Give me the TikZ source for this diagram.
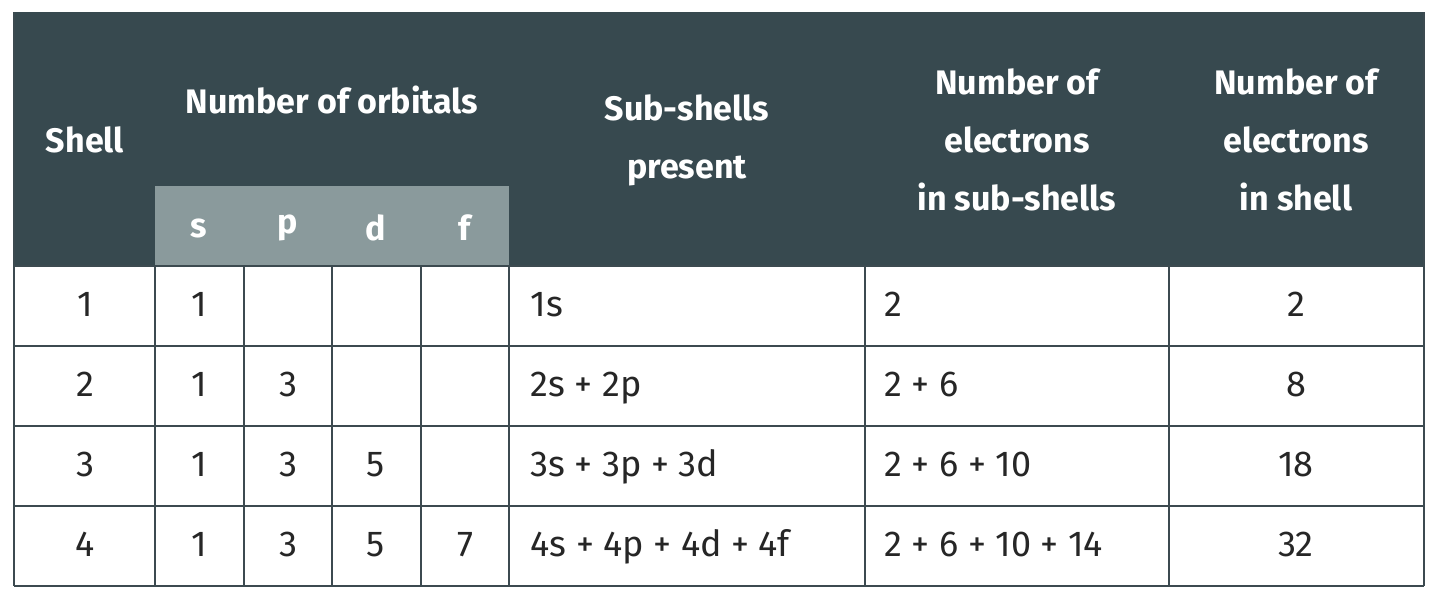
\documentclass[tikz,border=0pt]{standalone}
\usepackage{fontspec}
\setmainfont{Fira Sans}
\usetikzlibrary{positioning}
\definecolor{headdark}{HTML}{37494F}
\definecolor{headlight}{HTML}{8A9A9C}
\definecolor{gridline}{HTML}{3C4A50}

\begin{document}
\begin{tikzpicture}[x=1pt, y=-1pt, headtext/.style={text=white, font=\fontsize{34}{58}\selectfont\bfseries, align=center}, celltext/.style={text=black!85, font=\fontsize{36}{40}\selectfont, text height=26pt, text depth=8pt}]

  \useasboundingbox (0,0) rectangle (1436,598);
  \fill[white] (0,0) rectangle (1436,598);
  \fill[headdark] (14,12) rectangle (1424,266);
  \fill[headlight] (155,186) rectangle (509,266);

  % grid of the body
  \foreach \y in {266,346,426,506,586}
    \draw[gridline, line width=2pt] (14,\y) -- (1424,\y);
  \foreach \x in {14,155,244,332,421,509,865,1169,1424}
    \draw[gridline, line width=2pt] (\x,266) -- (\x,586);
  \draw[gridline, line width=2pt] (14,12) -- (14,266) (1424,12) -- (1424,266);

  % header
  \node[headtext] (shell) at (85,140) {Shell};
  \node[headtext] (norb) at (332,100) {Number of orbitals};
  \node[headtext] (subs) at (687,140) {Sub-shells\\present};
  \node[headtext] (esub) at (1017,140) {Number of\\electrons\\in sub-shells};
  \node[headtext] (eshell) at (1296,140) {Number of\\electrons\\in shell};
  \node[headtext] (hs) at (199,228) {s};
  \node[headtext] (hp) at (288,228) {p};
  \node[headtext] (hd) at (376,228) {d};
  \node[headtext] (hf) at (465,228) {f};

  % rows
  \foreach \n/\s/\p/\d/\f/\sub/\el/\tot [count=\i] in {
      1/1///{}/1s/2/2,
      2/1/3//{}/2s + 2p/2 + 6/8,
      3/1/3/5/{}/3s + 3p + 3d/2 + 6 + 10/18,
      4/1/3/5/7/4s + 4p + 4d + 4f/2 + 6 + 10 + 14/32} {
    \pgfmathsetmacro{\ry}{227+80*\i}
    \node[celltext] (n\i) at (85,\ry) {\n};
    \node[celltext] (s\i) at (199,\ry) {\s};
    \node[celltext] (p\i) at (288,\ry) {\p};
    \node[celltext] (d\i) at (376,\ry) {\d};
    \node[celltext] (f\i) at (465,\ry) {\f};
    \node[celltext, anchor=west] (sub\i) at (527,\ry) {\sub};
    \node[celltext, anchor=west] (el\i) at (881,\ry) {\el};
    \node[celltext] (tot\i) at (1296,\ry) {\tot};
  }
\end{tikzpicture}
\end{document}
